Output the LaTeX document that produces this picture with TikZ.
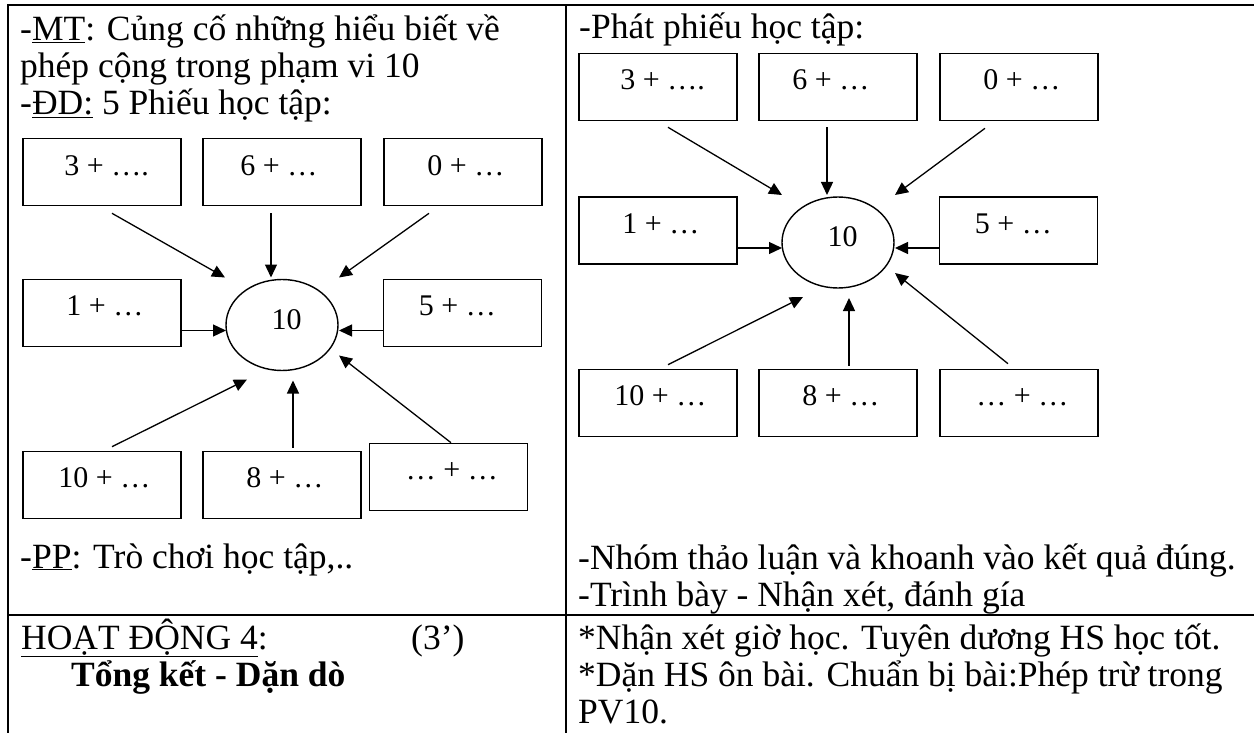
\documentclass[tikz,border=0pt]{standalone}
\usepackage{fontspec}
\setmainfont{Liberation Serif}
\usetikzlibrary{arrows.meta,shapes.geometric,calc}
\begin{document}
\begin{tikzpicture}[x=1pt,y=-1pt,
  tline/.style={line width=2.4pt},
  box/.style={draw, line width=1.6pt, minimum width=158pt, minimum height=67pt, inner sep=0pt},
  oval/.style={draw, ellipse, line width=1.4pt, minimum width=112pt, minimum height=91pt, inner sep=0pt},
  btxt/.style={inner sep=0pt, anchor=base west, font=\fontsize{30}{32}\selectfont},
  txt/.style={inner sep=0pt, anchor=base west, font=\fontsize{35.5}{37}\selectfont},
  arr/.style={line width=1.3pt, -{Triangle[length=13pt,width=12pt]}},
]
\useasboundingbox (0,0) rectangle (1254,733);
% table lines
\coordinate (tl) at (8,5);
\coordinate (tr) at (1254,5);
\coordinate (bl) at (8,733);
\coordinate (mt) at (566,5);
\coordinate (mb) at (566,733);
\coordinate (hl) at (8,615);
\coordinate (hr) at (1254,615);
\draw[tline] (bl) -- (tl) -- (tr);
\draw[tline] (mt) -- (mb);
\draw[tline] (hl) -- (hr);

% ---------- left column ----------
\node[txt] (t1) at (20,41) {-\underline{MT}: Củng cố những hiểu biết về};
\node[txt] (t2) at (20,78) {phép cộng trong phạm vi 10};
\node[txt] (t3) at (20,115) {-\underline{ĐD:} 5 Phiếu học tập:};

\node[box] (l1) at (102,172) {};
\node[box] (l2) at (282,172) {};
\node[box] (l3) at (463,172) {};
\node[box] (l4) at (102,313) {};
\node[oval] (l5) at (282,325) {};
\node[box] (l6) at (462.5,313) {};
\node[box] (l7) at (102,485) {};
\node[box] (l8) at (282,485) {};
\node[box] (l9) at (448.5,477) {};

\node[btxt] (l1t) at ($(l1.north west)+(42,38)$) {3 + ….};
\node[btxt] (l2t) at ($(l2.north west)+(38,38)$) {6 + …};
\node[btxt] (l3t) at ($(l3.north west)+(44,38)$) {0 + …};
\node[btxt] (l4t) at ($(l4.north west)+(44,37)$) {1 + …};
\node[btxt] (l6t) at ($(l6.north west)+(36,37)$) {5 + …};
\node[btxt] (l7t) at ($(l7.north west)+(36,37)$) {10 + …};
\node[btxt] (l8t) at ($(l8.north west)+(44,37)$) {8 + …};
\node[btxt] (l9t) at ($(l9.north west)+(37,37)$) {… + …};
\node[btxt, anchor=base] (l5t) at ($(l5)+(4.5,4.5)$) {10};

\draw[arr] ($(l1.south)+(10,7)$) -- ($(l5)+(-57,-47.5)$);
\draw[arr] ($(l2.south)+(-11,7)$) -- ($(l5)+(-11,-47.5)$);
\draw[arr] ($(l3.south)+(-34,7)$) -- ($(l5)+(57,-47.5)$);
\draw[arr] ($(l4.east)+(0,17.5)$) -- ($(l5)+(-56,5.5)$);
\draw[arr] ($(l6.west)+(0,17.5)$) -- ($(l5)+(57,5.5)$);
\draw[arr] ($(l7.north)+(10,-4)$) -- ($(l5)+(-35,54.5)$);
\draw[arr] ($(l8.north)+(11,-3)$) -- ($(l5)+(11,55.5)$);
\draw[arr] ($(l9.north)+(2.5,0)$) -- ($(l5)+(57,30.5)$);

\node[txt] (t4) at (20,568) {-\underline{PP}: Trò chơi học tập,..};
\node[txt] (t5) at (21,649) {\underline{HOẠT ĐỘNG 4}:};
\node[txt] (t6) at (411,649) {(3’)};
\node[txt] (t7) at (71,686) {\bfseries Tổng kết - Dặn dò};

% ---------- right column ----------
\node[txt] (s1) at (579,39) {-Phát phiếu học tập:};

\node[box] (r1) at (658,87) {};
\node[box] (r2) at (838,87) {};
\node[box] (r3) at (1019,87) {};
\node[box] (r4) at (658,230.5) {};
\node[oval] (r5) at (838,242.5) {};
\node[box] (r6) at (1018.5,230.5) {};
\node[box] (r7) at (658,403) {};
\node[box] (r8) at (838,403) {};
\node[box] (r9) at (1019,403) {};

\node[btxt] (r1t) at ($(r1.north west)+(42,37)$) {3 + ….};
\node[btxt] (r2t) at ($(r2.north west)+(34,37)$) {6 + …};
\node[btxt] (r3t) at ($(r3.north west)+(44,37)$) {0 + …};
\node[btxt] (r4t) at ($(r4.north west)+(44,37)$) {1 + …};
\node[btxt] (r6t) at ($(r6.north west)+(36,37)$) {5 + …};
\node[btxt] (r7t) at ($(r7.north west)+(36,37)$) {10 + …};
\node[btxt] (r8t) at ($(r8.north west)+(44,37)$) {8 + …};
\node[btxt] (r9t) at ($(r9.north west)+(37,37)$) {… + …};
\node[btxt, anchor=base] (r5t) at ($(r5)+(4.5,4.5)$) {10};

\draw[arr] ($(r1.south)+(10,6)$) -- ($(r5)+(-56,-47.5)$);
\draw[arr] ($(r2.south)+(-11,6)$) -- ($(r5)+(-11,-47.5)$);
\draw[arr] ($(r3.south)+(-34,7)$) -- ($(r5)+(57,-47.5)$);
\draw[arr] ($(r4.east)+(0,17.5)$) -- ($(r5)+(-56,5.5)$);
\draw[arr] ($(r6.west)+(0,17.5)$) -- ($(r5)+(57,5.5)$);
\draw[arr] ($(r7.north)+(10,-4)$) -- ($(r5)+(-35,54.5)$);
\draw[arr] ($(r8.north)+(11,-3)$) -- ($(r5)+(11,55.5)$);
\draw[arr] ($(r9.north)+(-11,-5)$) -- ($(r5)+(57,30.5)$);

\node[txt] (s2) at (578,569) {-Nhóm thảo luận và khoanh vào kết quả đúng.};
\node[txt] (s3) at (578,606) {-Trình bày - Nhận xét, đánh gía};
\node[txt] (s4) at (578,649) {*Nhận xét giờ học. Tuyên dương HS học tốt.};
\node[txt] (s5) at (578,686) {*Dặn HS ôn bài. Chuẩn bị bài:Phép trừ trong};
\node[txt] (s6) at (578,723) {PV10.};
\end{tikzpicture}
\end{document}
